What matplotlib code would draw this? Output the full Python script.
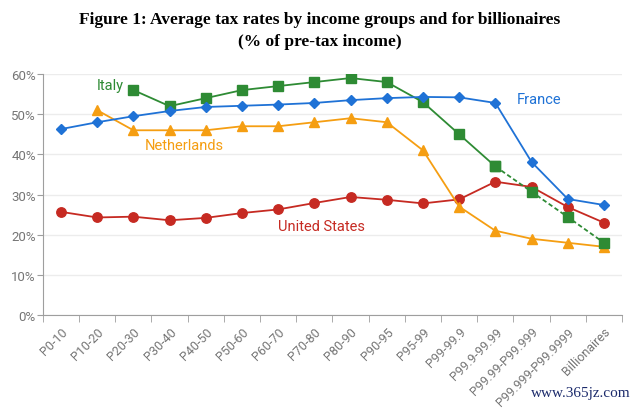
import numpy as np
import matplotlib.pyplot as plt

groups = ["P0-10", "P10-20", "P20-30", "P30-40", "P40-50", "P50-60", "P60-70",
          "P70-80", "P80-90", "P90-95", "P95-99", "P99-99.9", "P99.9-99.99",
          "P99.99-P99.999", "P99.999-P99.9999", "Billionaires"]

france = [46.3, 48.0, 49.5, 50.8, 51.8, 52.1, 52.4, 52.8, 53.5, 54.0, 54.3,
          54.2, 52.8, 38.1, 28.9, 27.4]
italy = [np.nan, np.nan, 56, 52, 54, 56, 57, 58, 59, 58, 53, 45, 37,
         30.7, 24.4, 18.0]
netherlands = [np.nan, 51, 46, 46, 46, 47, 47, 48, 49, 48, 41, 27, 21,
               19, 18, 17]
us = [25.7, 24.3, 24.5, 23.6, 24.2, 25.4, 26.3, 27.9, 29.4, 28.7, 27.8,
      28.8, 33.2, 31.9, 26.9, 23.0]

c_fr = "#1f72d6"
c_it = "#2e8b34"
c_nl = "#f59e12"
c_us = "#c62a22"
grey = "#757575"

plt.rcParams["font.family"] = ["Roboto", "DejaVu Sans"]

fig = plt.figure(figsize=(6.4, 4.1), dpi=100)
ax = fig.add_axes([0.067, 0.229, 0.905, 0.588])
x = np.arange(len(groups))

ax.plot(x, us, color=c_us, marker="o", ms=6.8, lw=1.3, zorder=3)
ax.plot(x, netherlands, color=c_nl, marker="^", ms=7, lw=1.3, zorder=3)
# Italy: solid up to P99.9-99.99, dashed after
split = 12
ax.plot(x[:split + 1], italy[:split + 1], color=c_it, marker="s", ms=6.8, lw=1.3, zorder=4)
ax.plot(x[split:], italy[split:], color=c_it, marker="s", ms=6.8, lw=1.3,
        ls=(0, (2.5, 1.5)), zorder=4)
ax.plot(x, france, color=c_fr, marker="D", ms=5, lw=1.3, zorder=5)

ax.text(1.35, 57.3, "Italy", color=c_it, fontsize=10.5, ha="center", va="center")
ax.text(3.4, 42.3, "Netherlands", color=c_nl, fontsize=10.5, ha="center", va="center")
ax.text(7.2, 22.3, "United States", color=c_us, fontsize=10.5, ha="center", va="center")
ax.text(13.2, 53.8, "France", color=c_fr, fontsize=10.5, ha="center", va="center")

ax.set_xlim(-0.5, len(groups) - 0.5)
ax.set_ylim(0, 60)
ax.set_yticks(np.arange(0, 61, 10))
ax.set_yticklabels([f"{v}%" for v in range(0, 61, 10)])
ax.set_xticks(x)
ax.set_xticklabels(groups, rotation=45, ha="right", rotation_mode="anchor")
ax.set_xticks(np.arange(-0.5, len(groups), 1), minor=True)
ax.tick_params(axis="x", which="major", length=0, labelsize=9, colors=grey, pad=7)
ax.tick_params(axis="x", which="minor", length=5, color="#9e9e9e")
ax.tick_params(axis="y", length=4, labelsize=9.5, colors=grey, color="#9e9e9e", pad=1)

ax.grid(axis="y", color="#ececec", lw=1)
ax.set_axisbelow(True)
for s in ["top", "right"]:
    ax.spines[s].set_visible(False)
for s in ["left", "bottom"]:
    ax.spines[s].set_color("#9e9e9e")

fig.text(0.5, 0.95, "Figure 1: Average tax rates by income groups and for billionaires",
         ha="center", va="center", fontsize=12.5, fontweight="bold",
         family="Liberation Serif")
fig.text(0.5, 0.897, "(% of pre-tax income)", ha="center", va="center",
         fontsize=12.5, fontweight="bold", family="Liberation Serif")
fig.text(0.985, 0.025, "www.365jz.com", ha="right", va="bottom", fontsize=11,
         color="#1b2a6b", family="Liberation Serif")

fig.savefig("out.png", dpi=100, facecolor="white")
